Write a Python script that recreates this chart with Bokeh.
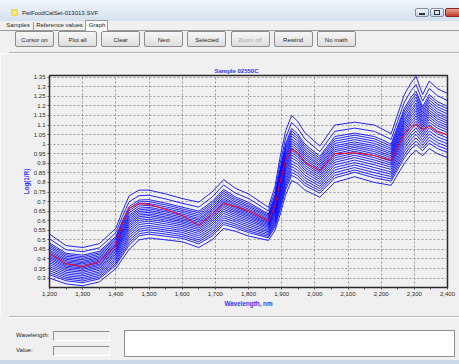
from bokeh.plotting import figure
from bokeh.layouts import column
from bokeh.models import Range1d, FixedTicker, NumeralTickFormatter, CustomJSTickFormatter, Div
from bokeh.embed import file_html
from bokeh.resources import INLINE

# ---------------- data ----------------
WAVELENGTH = [1200, 1250, 1300, 1350, 1400, 1420, 1440, 1470, 1500, 1550, 1600,
              1650, 1690, 1725, 1760, 1800, 1860, 1880, 1895, 1912, 1930, 1948, 1970, 2015,
              2060, 2120, 2180, 2230, 2270, 2290, 2305, 2325, 2345, 2370, 2400]

S01 = [0.300, 0.270, 0.260, 0.280, 0.350, 0.400, 0.450, 0.500, 0.510, 0.500, 0.490, 0.460, 0.500, 0.560, 0.545, 0.520, 0.497, 0.550, 0.630, 0.735, 0.810, 0.795, 0.760, 0.723, 0.800, 0.830, 0.800, 0.785, 0.900, 0.945, 0.967, 0.940, 0.977, 0.950, 0.930]
S02 = [0.318, 0.286, 0.276, 0.296, 0.367, 0.420, 0.472, 0.521, 0.530, 0.519, 0.508, 0.479, 0.520, 0.580, 0.563, 0.538, 0.511, 0.568, 0.654, 0.762, 0.837, 0.821, 0.784, 0.744, 0.824, 0.853, 0.824, 0.807, 0.929, 0.975, 0.998, 0.966, 1.005, 0.977, 0.957]
S03 = [0.328, 0.295, 0.285, 0.305, 0.376, 0.431, 0.485, 0.532, 0.541, 0.530, 0.518, 0.490, 0.531, 0.591, 0.573, 0.547, 0.518, 0.579, 0.667, 0.777, 0.852, 0.836, 0.797, 0.756, 0.837, 0.865, 0.837, 0.819, 0.945, 0.992, 1.015, 0.980, 1.021, 0.992, 0.972]
S04 = [0.339, 0.304, 0.294, 0.314, 0.386, 0.443, 0.498, 0.544, 0.553, 0.541, 0.528, 0.500, 0.543, 0.603, 0.583, 0.557, 0.526, 0.589, 0.681, 0.792, 0.868, 0.850, 0.811, 0.768, 0.851, 0.878, 0.851, 0.831, 0.961, 1.009, 1.033, 0.994, 1.037, 1.008, 0.987]
S05 = [0.350, 0.313, 0.303, 0.323, 0.396, 0.454, 0.511, 0.556, 0.564, 0.552, 0.539, 0.511, 0.554, 0.615, 0.594, 0.567, 0.534, 0.599, 0.695, 0.807, 0.883, 0.865, 0.825, 0.780, 0.865, 0.891, 0.865, 0.843, 0.978, 1.026, 1.051, 1.009, 1.053, 1.023, 1.002]
S06 = [0.360, 0.322, 0.312, 0.332, 0.405, 0.465, 0.523, 0.568, 0.575, 0.562, 0.549, 0.522, 0.565, 0.626, 0.604, 0.577, 0.542, 0.610, 0.708, 0.822, 0.898, 0.880, 0.838, 0.792, 0.878, 0.904, 0.878, 0.855, 0.994, 1.043, 1.068, 1.023, 1.069, 1.038, 1.017]
S07 = [0.371, 0.331, 0.321, 0.341, 0.415, 0.476, 0.536, 0.580, 0.587, 0.573, 0.559, 0.533, 0.577, 0.638, 0.614, 0.587, 0.550, 0.620, 0.722, 0.837, 0.914, 0.894, 0.852, 0.804, 0.892, 0.917, 0.892, 0.868, 1.010, 1.059, 1.086, 1.038, 1.085, 1.054, 1.032]
S08 = [0.381, 0.340, 0.330, 0.350, 0.424, 0.488, 0.548, 0.591, 0.598, 0.584, 0.569, 0.543, 0.588, 0.649, 0.624, 0.597, 0.558, 0.631, 0.735, 0.852, 0.929, 0.909, 0.865, 0.816, 0.905, 0.930, 0.905, 0.880, 1.026, 1.076, 1.103, 1.052, 1.101, 1.069, 1.047]
S09 = [0.390, 0.348, 0.338, 0.358, 0.432, 0.498, 0.559, 0.602, 0.608, 0.594, 0.578, 0.553, 0.598, 0.660, 0.633, 0.606, 0.565, 0.640, 0.747, 0.866, 0.943, 0.922, 0.877, 0.827, 0.917, 0.942, 0.917, 0.891, 1.041, 1.091, 1.119, 1.065, 1.115, 1.083, 1.061]
S10 = [0.399, 0.356, 0.346, 0.366, 0.440, 0.508, 0.570, 0.612, 0.618, 0.603, 0.587, 0.562, 0.608, 0.670, 0.642, 0.615, 0.571, 0.649, 0.759, 0.879, 0.956, 0.935, 0.889, 0.838, 0.929, 0.953, 0.929, 0.901, 1.055, 1.106, 1.134, 1.078, 1.129, 1.096, 1.074]
S11 = [0.407, 0.363, 0.353, 0.373, 0.448, 0.516, 0.580, 0.621, 0.627, 0.612, 0.595, 0.571, 0.617, 0.679, 0.650, 0.623, 0.578, 0.657, 0.770, 0.891, 0.968, 0.946, 0.900, 0.848, 0.940, 0.963, 0.940, 0.911, 1.068, 1.119, 1.148, 1.089, 1.142, 1.108, 1.086]
S12 = [0.415, 0.370, 0.360, 0.380, 0.455, 0.525, 0.590, 0.630, 0.635, 0.620, 0.603, 0.579, 0.625, 0.688, 0.658, 0.630, 0.584, 0.665, 0.780, 0.903, 0.980, 0.958, 0.910, 0.857, 0.950, 0.973, 0.950, 0.920, 1.080, 1.133, 1.161, 1.100, 1.154, 1.120, 1.098]
S13 = [0.423, 0.377, 0.367, 0.387, 0.463, 0.534, 0.600, 0.639, 0.644, 0.629, 0.611, 0.587, 0.634, 0.697, 0.666, 0.638, 0.590, 0.673, 0.791, 0.914, 0.992, 0.969, 0.921, 0.866, 0.961, 0.983, 0.961, 0.930, 1.093, 1.146, 1.175, 1.111, 1.166, 1.132, 1.110]
S14 = [0.431, 0.384, 0.374, 0.394, 0.470, 0.543, 0.610, 0.648, 0.653, 0.637, 0.619, 0.595, 0.643, 0.705, 0.673, 0.645, 0.596, 0.681, 0.801, 0.926, 1.004, 0.980, 0.931, 0.875, 0.971, 0.992, 0.971, 0.939, 1.105, 1.159, 1.188, 1.122, 1.178, 1.144, 1.121]
S15 = [0.439, 0.391, 0.381, 0.401, 0.477, 0.551, 0.620, 0.657, 0.662, 0.646, 0.627, 0.604, 0.652, 0.714, 0.681, 0.653, 0.602, 0.689, 0.812, 0.938, 1.016, 0.992, 0.942, 0.885, 0.982, 1.002, 0.982, 0.949, 1.118, 1.172, 1.202, 1.134, 1.191, 1.156, 1.133]
S16 = [0.447, 0.398, 0.388, 0.408, 0.484, 0.560, 0.629, 0.666, 0.670, 0.654, 0.635, 0.612, 0.660, 0.723, 0.689, 0.661, 0.608, 0.697, 0.822, 0.949, 1.028, 1.003, 0.952, 0.894, 0.992, 1.012, 0.992, 0.958, 1.130, 1.185, 1.215, 1.145, 1.203, 1.168, 1.144]
S17 = [0.457, 0.406, 0.396, 0.416, 0.493, 0.570, 0.641, 0.677, 0.680, 0.664, 0.644, 0.622, 0.670, 0.734, 0.698, 0.670, 0.615, 0.706, 0.834, 0.963, 1.042, 1.016, 0.964, 0.905, 1.004, 1.024, 1.004, 0.969, 1.145, 1.200, 1.231, 1.158, 1.217, 1.182, 1.158]
S18 = [0.466, 0.414, 0.404, 0.424, 0.501, 0.580, 0.652, 0.687, 0.690, 0.673, 0.653, 0.631, 0.680, 0.744, 0.707, 0.678, 0.622, 0.716, 0.846, 0.976, 1.055, 1.029, 0.976, 0.915, 1.016, 1.035, 1.016, 0.979, 1.159, 1.215, 1.246, 1.170, 1.231, 1.195, 1.171]
S19 = [0.475, 0.422, 0.412, 0.432, 0.510, 0.590, 0.663, 0.698, 0.700, 0.683, 0.662, 0.641, 0.690, 0.754, 0.716, 0.687, 0.629, 0.725, 0.858, 0.990, 1.069, 1.042, 0.988, 0.926, 1.028, 1.047, 1.028, 0.990, 1.174, 1.230, 1.262, 1.183, 1.245, 1.209, 1.185]
S20 = [0.484, 0.430, 0.420, 0.440, 0.518, 0.600, 0.674, 0.708, 0.710, 0.692, 0.671, 0.650, 0.700, 0.764, 0.725, 0.696, 0.635, 0.734, 0.870, 1.003, 1.082, 1.055, 1.000, 0.937, 1.040, 1.058, 1.040, 1.001, 1.188, 1.245, 1.277, 1.196, 1.259, 1.222, 1.198]
S21 = [0.505, 0.448, 0.438, 0.458, 0.537, 0.623, 0.699, 0.731, 0.733, 0.714, 0.691, 0.671, 0.723, 0.787, 0.745, 0.716, 0.651, 0.755, 0.897, 1.033, 1.113, 1.084, 1.027, 0.961, 1.067, 1.084, 1.067, 1.025, 1.220, 1.279, 1.312, 1.225, 1.291, 1.253, 1.228]
S22 = [0.530, 0.470, 0.460, 0.480, 0.560, 0.650, 0.730, 0.760, 0.760, 0.740, 0.716, 0.697, 0.750, 0.815, 0.770, 0.740, 0.670, 0.780, 0.930, 1.070, 1.150, 1.120, 1.060, 0.990, 1.100, 1.115, 1.100, 1.055, 1.260, 1.320, 1.355, 1.260, 1.330, 1.290, 1.265]

SELECTED = [0.430, 0.375, 0.360, 0.385, 0.470, 0.590, 0.665, 0.690, 0.685, 0.660, 0.627, 0.575, 0.635, 0.690, 0.675, 0.652, 0.600, 0.680, 0.800, 0.915, 0.975, 0.955, 0.905, 0.862, 0.950, 0.955, 0.940, 0.915, 1.055, 1.090, 1.105, 1.077, 1.093, 1.063, 1.050]

BLUE_SPECTRA = [S01, S02, S03, S04, S05, S06, S07, S08, S09, S10, S11,
                S12, S13, S14, S15, S16, S17, S18, S19, S20, S21, S22]

X_TICKS = [1200, 1300, 1400, 1500, 1600, 1700, 1800, 1900, 2000, 2100, 2200, 2300, 2400]
X_MINOR = [1250, 1350, 1450, 1550, 1650, 1750, 1850, 1950, 2050, 2150, 2250, 2350]
Y_TICKS = [0.3, 0.35, 0.4, 0.45, 0.5, 0.55, 0.6, 0.65, 0.7, 0.75, 0.8, 0.85, 0.9,
           0.95, 1.0, 1.05, 1.1, 1.15, 1.2, 1.25, 1.3, 1.35]

CHART_TITLE = "Sample 02550C"
X_LABEL = "Wavelength, nm"
Y_LABEL = "Log(1/R)"
WINDOW_TITLE = "PetFoodCalSet-013013.SVF"
TABS = ["Samples", "Reference values", "Graph"]
BUTTONS = ["Cursor on", "Plot all", "Clear", "Next", "Selected", "Zoom off", "Rewind", "No math"]
FIELDS = ["Wavelength:", "Value:"]

FONT = "Liberation Sans"
BG = "#f0f0f0"
BLUE_TXT = "#3434ff"
W = 459


def box(left, top, width, height, style=""):
    return (f'<div style="position:absolute;left:{left}px;top:{top}px;width:{width}px;'
            f'height:{height}px;box-sizing:border-box;{style}"></div>')


def label(left, top, width, height, text, style=""):
    return (f'<div style="position:absolute;left:{left}px;top:{top}px;width:{width}px;'
            f'height:{height}px;line-height:{height}px;white-space:nowrap;{style}">{text}</div>')


# ---------------- header (window chrome) ----------------
h = [f'<div style="position:relative;width:{W}px;height:53px;background:{BG};overflow:hidden;'
     f'font-family:\'{FONT}\';font-size:6px;color:#1e1e1e">']
h.append(box(0, 0, W, 21, "background:linear-gradient(#f1f5fa,#d5e1ef)"))
h.append(box(11, 9, 7, 7, "background:radial-gradient(#fff6a8,#e8c21e);border-radius:2px"))
h.append(label(22, 9, 120, 8, WINDOW_TITLE))
h.append(box(415, 8, 14, 9, "background:linear-gradient(#eef3f9,#c9d6e7);border:1px solid #7d8ea6;border-radius:2px"))
h.append(box(430, 8, 14, 9, "background:linear-gradient(#eef3f9,#c9d6e7);border:1px solid #7d8ea6;border-radius:2px"))
h.append(box(445, 8, 16, 9, "background:linear-gradient(#e8a093,#c23c2c);border:1px solid #8a2a22;border-radius:2px"))
h.append(box(419, 13, 6, 2, "background:#333"))
h.append(box(434, 10, 6, 5, "border:1px solid #333"))
# tabs
h.append(box(0, 21, 86, 10, "border-bottom:1px solid #9a9a9a"))
h.append(box(33, 22, 1, 9, "background:#9a9a9a"))
h.append(box(85, 20, 23, 12, "background:#fafafa;border:1px solid #9a9a9a;border-bottom:none"))
h.append(box(108, 30, W - 108, 1, "background:#9a9a9a"))
tab_left = [3, 35, 86]
tab_w = [30, 49, 22]
for t, l, wd in zip(TABS, tab_left, tab_w):
    h.append(label(l, 21, wd, 9, t, "text-align:center"))
# buttons
for i, b in enumerate(BUTTONS):
    left = round(15 + 43.1 * i, 1)
    col = "#a6a6a6" if b == "Zoom off" else "#1e1e1e"
    h.append(box(left, 31, 39, 16, "background:linear-gradient(#f7f7f7,#dedede);"
                 "border:1px solid #8c8c8c;border-radius:2px"))
    h.append(label(left, 32, 39, 16, b, f"text-align:center;color:{col}"))
h.append(box(9, 52, W - 9, 1, "background:#b4b4b4"))
h.append('</div>')
header = Div(text="".join(h), width=W, height=53, margin=0)

# ---------------- main chart ----------------
p = figure(width=W, height=263, x_range=Range1d(1200, 2400), y_range=Range1d(0.251, 1.359),
           toolbar_location=None, output_backend="svg",
           min_border_left=49, min_border_right=12, min_border_top=22, min_border_bottom=29,
           background_fill_color=BG, border_fill_color=BG,
           outline_line_color="#2a2a2a", outline_line_width=1.5)
p.title.text = CHART_TITLE
p.title.align = "left"
p.title.offset = 165
p.title.standoff = 4
p.title.text_font = FONT
p.title.text_font_size = "6px"
p.title.text_font_style = "bold"
p.title.text_color = BLUE_TXT

p.xaxis.ticker = FixedTicker(ticks=X_TICKS, minor_ticks=X_MINOR)
p.xaxis.formatter = NumeralTickFormatter(format="0,0")
p.yaxis.ticker = FixedTicker(ticks=Y_TICKS)
p.yaxis.formatter = CustomJSTickFormatter(code="return String(Number(tick.toFixed(2)));")
p.xaxis.axis_label = X_LABEL
p.yaxis.axis_label = Y_LABEL
for ax in (p.xaxis, p.yaxis):
    ax.axis_line_color = "#2a2a2a"
    ax.major_tick_line_color = "#555555"
    ax.minor_tick_line_color = "#555555"
    ax.major_tick_in = 0
    ax.major_tick_out = 2
    ax.minor_tick_in = 0
    ax.minor_tick_out = 2
    ax.major_label_text_font = FONT
    ax.major_label_text_font_size = "6px"
    ax.major_label_text_color = "#2a2a2a"
    ax.major_label_standoff = 2
    ax.axis_label_text_font = FONT
    ax.axis_label_text_font_size = "6.3px"
    ax.axis_label_text_font_style = "bold"
    ax.axis_label_text_color = BLUE_TXT
    ax.axis_label_standoff = 1
p.yaxis.minor_tick_line_color = None
p.grid.grid_line_color = "#9a9a9a"
p.grid.grid_line_dash = "2 2"
p.grid.grid_line_width = 1

for s in BLUE_SPECTRA:
    p.line(WAVELENGTH, s, line_color="#0000ff", line_width=1, line_alpha=0.85)
p.line(WAVELENGTH, SELECTED, line_color="#ff0000", line_width=1)

# ---------------- footer ----------------
f = [f'<div style="position:relative;width:{W}px;height:48px;background:{BG};overflow:hidden;'
     f'font-family:\'{FONT}\';font-size:6px;color:#1e1e1e">']
f.append(box(9, 0, W - 9, 1, "background:#b4b4b4"))
f.append(box(9, 1, W - 9, 1, "background:#ffffff"))
f.append(label(16, 15, 40, 9, FIELDS[0]))
f.append(label(16, 29.5, 40, 9, FIELDS[1]))
f.append(box(53, 15, 57, 10, f"background:{BG};border:1px solid #8f8f8f;border-right-color:#fff;border-bottom-color:#fff"))
f.append(box(53, 29.5, 57, 10, f"background:{BG};border:1px solid #8f8f8f;border-right-color:#fff;border-bottom-color:#fff"))
f.append(box(124, 13.5, 331, 27, "background:#ffffff;border:1px solid #8f8f8f"))
f.append(box(0, 44, W, 4, "background:#cdd9e8"))
f.append('</div>')
footer = Div(text="".join(f), width=W, height=48, margin=0)

layout = column(header, p, footer, spacing=0)
open("out.html", "w").write(file_html(layout, INLINE))
